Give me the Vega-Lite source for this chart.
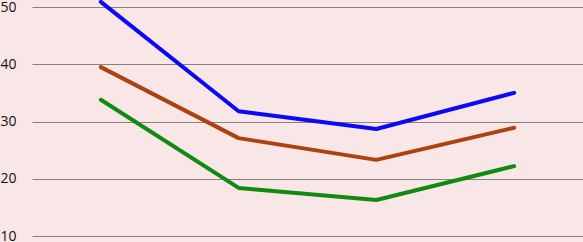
{
  "$schema": "https://vega.github.io/schema/vega-lite/v6.json",
  "width": 551,
  "height": 229,
  "autosize": {"type": "none"},
  "padding": {"left": 32, "top": 7, "right": 0, "bottom": 6},
  "background": "#f9e6e6",
  "config": {"view": {"stroke": null}},
  "data": {
    "values": [
      {"x": "A", "series": "s1", "value": 50.9},
      {"x": "B", "series": "s1", "value": 31.8},
      {"x": "C", "series": "s1", "value": 28.7},
      {"x": "D", "series": "s1", "value": 35.0},
      {"x": "A", "series": "s2", "value": 39.5},
      {"x": "B", "series": "s2", "value": 27.1},
      {"x": "C", "series": "s2", "value": 23.3},
      {"x": "D", "series": "s2", "value": 28.9},
      {"x": "A", "series": "s3", "value": 33.8},
      {"x": "B", "series": "s3", "value": 18.4},
      {"x": "C", "series": "s3", "value": 16.3},
      {"x": "D", "series": "s3", "value": 22.2}
    ]
  },
  "mark": {"type": "line", "strokeWidth": 4, "strokeCap": "round", "strokeJoin": "round", "clip": false},
  "encoding": {
    "x": {"field": "x", "type": "ordinal", "scale": {"type": "point", "padding": 0.5}, "axis": null},
    "y": {
      "field": "value", "type": "quantitative",
      "scale": {"domain": [10, 50], "nice": false, "zero": false},
      "axis": {
        "values": [10, 20, 30, 40, 50],
        "title": null, "domain": false, "ticks": false,
        "labelPadding": 16, "labelFont": "Open Sans", "labelFontSize": 14, "labelColor": "#111111",
        "gridColor": "#8a8080", "gridWidth": 1, "gridOpacity": 1
      }
    },
    "color": {
      "field": "series", "type": "nominal",
      "scale": {"domain": ["s1", "s2", "s3"], "range": ["#0a0af5", "#ad4110", "#108a10"]},
      "legend": null
    }
  }
}
